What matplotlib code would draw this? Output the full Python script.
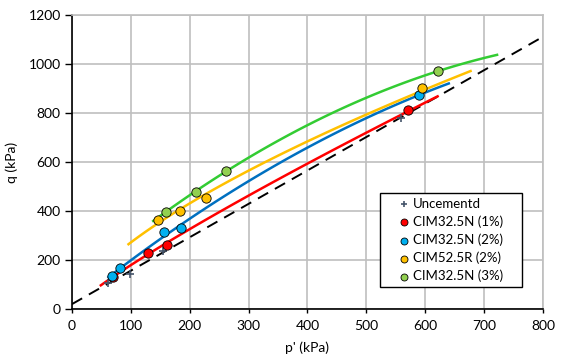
import numpy as np
import matplotlib
matplotlib.use("Agg")
import matplotlib.pyplot as plt
from matplotlib.patches import Rectangle

plt.rcParams['font.family'] = ['Lato', 'DejaVu Sans']

# data
unc_p = [61, 98, 154, 558]
unc_q = [105, 143, 238, 778]

red_p = [70, 129, 162, 570]
red_q = [132, 230, 261, 812]

blue_p = [68, 82, 156, 185, 589]
blue_q = [135, 169, 314, 329, 873]

orange_p = [146, 183, 227, 595]
orange_q = [363, 399, 454, 903]

green_p = [159, 210, 261, 622]
green_q = [397, 478, 562, 971]

# trendline extents (p')
red_range = [49, 621]
blue_range = [62, 640]
orange_range = [96, 677]
green_range = [138, 722]

# critical state line q = a + M p'
csl_a = 20
csl_M = 1.364

fig = plt.figure(figsize=(5.61, 3.62), dpi=100)
ax = fig.add_axes([0.1283, 0.1464, 0.8396, 0.8122])

# excel style trendlines
def trend_poly(p, q, rng, color):
    c = np.polyfit(p, q, 2)
    xx = np.linspace(rng[0], rng[1], 100)
    ax.plot(xx, np.polyval(c, xx), color=color, lw=1.8, zorder=3)

def trend_power(p, q, rng, color):
    b, la = np.polyfit(np.log(p), np.log(q), 1)
    xx = np.linspace(rng[0], rng[1], 100)
    ax.plot(xx, np.exp(la) * xx ** b, color=color, lw=1.8, zorder=3)

trend_power(red_p, red_q, red_range, '#FF0000')
trend_poly(blue_p, blue_q, blue_range, '#0070C0')
trend_power(orange_p, orange_q, orange_range, '#FFC000')
trend_poly(green_p, green_q, green_range, '#33CC33')

xx = np.array([0, 800])
ax.plot(xx, csl_a + csl_M * xx, color='black', lw=1.4, ls=(0, (6, 4)), zorder=2)

ax.scatter(unc_p, unc_q, marker='+', color='#44546A', s=40, lw=1.2, zorder=4, label='Uncementd')
ax.scatter(red_p, red_q, color='#FF0000', edgecolor='black', lw=0.6, s=45, zorder=5, label='CIM32.5N (1%)')
ax.scatter(blue_p, blue_q, color='#00B0F0', edgecolor='black', lw=0.6, s=45, zorder=5, label='CIM32.5N (2%)')
ax.scatter(orange_p, orange_q, color='#FFC000', edgecolor='black', lw=0.6, s=45, zorder=5, label='CIM52.5R (2%)')
ax.scatter(green_p, green_q, color='#92D050', edgecolor='black', lw=0.6, s=45, zorder=5, label='CIM32.5N (3%)')

ax.set_xlim(0, 800)
ax.set_ylim(0, 1200)
ax.set_xticks(range(0, 801, 100))
ax.set_yticks(range(0, 1201, 200))
ax.grid(True, color='#BFBFBF', lw=1.2)
ax.set_axisbelow(True)
for s in ['top', 'right']:
    ax.spines[s].set_color('#BFBFBF')
    ax.spines[s].set_linewidth(1.2)
for s in ['left', 'bottom']:
    ax.spines[s].set_color('black')
    ax.spines[s].set_linewidth(1.2)
ax.tick_params(axis='y', direction='out', length=5, width=1, labelsize=10, colors='black', pad=3)
ax.tick_params(axis='x', direction='out', length=3, width=1, labelsize=10, colors='black', pad=5)
ax.set_xlabel("p' (kPa)", fontsize=10, labelpad=7)
ax.set_ylabel("q (kPa)", fontsize=10, labelpad=8)

# legend box drawn by hand so the entries sit centred inside it
ax.add_patch(Rectangle((0.6547, 0.0748), 0.3008, 0.3198, transform=ax.transAxes,
                       facecolor='white', edgecolor='black', lw=1.0, zorder=6))
leg = ax.legend(loc='center', bbox_to_anchor=(0.802, 0.2347), frameon=False,
                fontsize=9.5, handletextpad=0.1, labelspacing=0.42, markerscale=0.75,
                handlelength=1.1, borderpad=0.2)
leg.set_zorder(7)

fig.savefig('out.png', dpi=100)
